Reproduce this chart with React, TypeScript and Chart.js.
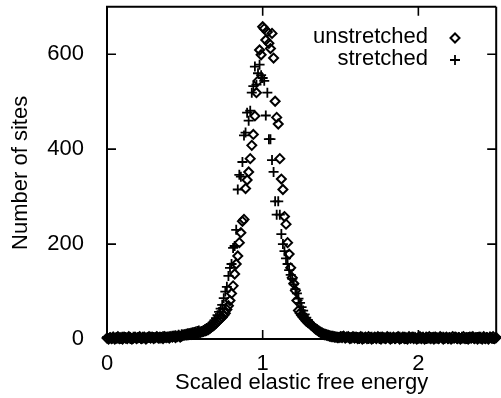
import React, { useEffect, useRef } from 'react';
import { Chart, registerables } from 'chart.js';

Chart.register(...registerables);

// Histogram bins: bin i is at x = i * binWidth (0 .. 2.5)
const binWidth = 0.01;

const unstretched = [
  2, 0, 3, 1, 4, 0, 2, 5, 1, 3,
  0, 4, 2, 1, 5, 3, 0, 2, 4, 1,
  3, 5, 1, 2, 4, 0, 3, 5, 2, 4,
  1, 3, 5, 2, 4, 3, 1, 5, 3, 4,
  2, 5, 4, 6, 3, 5, 7, 4, 6, 8,
  8, 9, 9, 10, 10, 11, 11, 12, 12, 13,
  14, 15, 16, 17, 18, 20, 22, 25, 27, 30,
  33, 37, 40, 43, 46, 50, 54, 62, 70, 81,
  96, 112, 137, 158, 175, 203, 224, 248, 252, 317,
  335, 352, 380, 408, 431, 470, 519, 544, 609, 599,
  658, 654, 630, 647, 623, 612, 644, 592, 501, 467,
  453, 380, 337, 315, 258, 242, 203, 179, 150, 129,
  117, 102, 81, 60, 55, 50, 46, 42, 38, 35,
  33, 30, 27, 24, 21, 19, 16, 14, 12, 10,
  9, 8, 7, 6, 5, 5, 4, 4, 3, 3,
  5, 3, 6, 2, 4, 5, 1, 3, 5, 2,
  4, 1, 3, 5, 0, 2, 4, 1, 5, 3,
  0, 2, 4, 1, 5, 3, 0, 4, 2, 1,
  5, 3, 0, 2, 4, 1, 3, 5, 0, 2,
  4, 1, 3, 0, 5, 2, 4, 1, 3, 0,
  2, 5, 1, 3, 0, 4, 2, 5, 1, 3,
  0, 4, 2, 1, 5, 3, 0, 2, 4, 1,
  3, 0, 5, 2, 4, 1, 3, 0, 2, 5,
  1, 3, 0, 4, 2, 5, 1, 3, 0, 4,
  2, 0, 5, 1, 3, 0, 4, 2, 5, 1,
  3,
];

const stretched = [
  4, 1, 3, 0, 5, 2, 4, 1, 3, 0,
  5, 2, 4, 1, 3, 0, 2, 5, 3, 1,
  4, 2, 0, 5, 3, 1, 4, 2, 5, 3,
  4, 2, 5, 3, 1, 4, 6, 3, 5, 4,
  6, 4, 7, 5, 8, 6, 9, 7, 10, 9,
  10, 11, 12, 12, 13, 14, 15, 16, 17, 18,
  16, 17, 19, 21, 23, 25, 28, 31, 35, 39,
  44, 50, 57, 64, 72, 86, 100, 110, 133, 150,
  158, 192, 196, 230, 315, 346, 342, 373, 429, 435,
  477, 460, 481, 519, 533, 574, 536, 560, 578, 556,
  550, 544, 471, 519, 421, 421, 377, 352, 290, 262,
  290, 262, 221, 200, 185, 170, 158, 145, 135, 127,
  115, 105, 96, 85, 76, 67, 60, 52, 45, 40,
  35, 31, 28, 25, 22, 20, 18, 16, 14, 12,
  11, 10, 9, 8, 7, 7, 6, 5, 5, 4,
  3, 6, 4, 2, 5, 3, 4, 1, 3, 5,
  2, 4, 0, 3, 5, 1, 4, 2, 0, 3,
  5, 1, 3, 2, 4, 0, 5, 2, 3, 1,
  4, 2, 5, 1, 3, 0, 4, 2, 5, 1,
  3, 5, 0, 2, 4, 1, 3, 5, 2, 0,
  4, 1, 3, 5, 2, 0, 3, 1, 4, 2,
  5, 1, 3, 0, 4, 2, 5, 1, 3, 0,
  4, 2, 1, 5, 3, 0, 4, 2, 5, 1,
  3, 0, 4, 1, 5, 2, 0, 3, 4, 1,
  5, 2, 3, 0, 4, 1, 5, 3, 0, 2,
  4,
];

const seriesLabels = ['unstretched', 'stretched'];
const xTicks = [0, 1, 2];
const yTicks = [0, 200, 400, 600];
const yRightTicks = [200, 400, 600];
const xRange = [0, 2.5];
const yRange = [0, 700];
const xTitle = 'Scaled elastic free energy';
const yTitle = 'Number of sites';

const FONT = '"Liberation Sans", Arial, Helvetica, sans-serif';
const FONT_SIZE = 22;

function toPoints(values: number[]) {
  return values.map((y, i) => ({ x: Math.round(i * binWidth * 100) / 100, y }));
}

const framePlugin = {
  id: 'frameAndLegend',
  afterDraw(chart: any) {
    const { ctx, chartArea } = chart;
    const xs = chart.scales.x;
    const ys = chart.scales.y;
    const { left, right, top, bottom } = chartArea;
    ctx.save();
    ctx.strokeStyle = '#000';
    ctx.lineWidth = 2;
    ctx.beginPath();
    ctx.moveTo(left, top);
    ctx.lineTo(right, top);
    ctx.moveTo(left, top - 1);
    ctx.lineTo(left, bottom + 1);
    ctx.moveTo(left - 1, bottom);
    ctx.lineTo(right, bottom);
    ctx.moveTo(right, top);
    ctx.lineTo(right, bottom);
    ctx.stroke();

    const tl = 9;
    ctx.lineWidth = 1.6;
    ctx.beginPath();
    xTicks.forEach((v) => {
      const px = xs.getPixelForValue(v);
      ctx.moveTo(px, bottom);
      ctx.lineTo(px, bottom - tl);
      ctx.moveTo(px, top);
      ctx.lineTo(px, top + tl);
    });
    yTicks.forEach((v) => {
      const py = ys.getPixelForValue(v);
      ctx.moveTo(left, py);
      ctx.lineTo(left + tl, py);
    });
    yRightTicks.forEach((v) => {
      const py = ys.getPixelForValue(v);
      ctx.moveTo(right, py);
      ctx.lineTo(right - tl, py);
    });
    ctx.stroke();

    // legend
    ctx.fillStyle = '#000';
    ctx.font = `${FONT_SIZE}px ${FONT}`;
    ctx.textAlign = 'right';
    ctx.textBaseline = 'middle';
    const textX = 428;
    const symX = 455;
    const rows = [37, 59];
    seriesLabels.forEach((label, i) => {
      ctx.fillText(label, textX, rows[i]);
    });
    // diamond
    ctx.lineWidth = 2;
    ctx.beginPath();
    const r = 4.5;
    const cy0 = rows[0] + 1;
    ctx.moveTo(symX - r, cy0);
    ctx.lineTo(symX, cy0 - r);
    ctx.lineTo(symX + r, cy0);
    ctx.lineTo(symX, cy0 + r);
    ctx.closePath();
    ctx.stroke();
    // plus
    ctx.lineWidth = 1.8;
    ctx.beginPath();
    const pr = 5;
    const cy1 = rows[1] + 1;
    ctx.moveTo(symX - pr, cy1);
    ctx.lineTo(symX + pr, cy1);
    ctx.moveTo(symX, cy1 - pr);
    ctx.lineTo(symX, cy1 + pr);
    ctx.stroke();
    ctx.restore();
  },
};

export default function App() {
  const canvasRef = useRef<HTMLCanvasElement | null>(null);

  useEffect(() => {
    const canvas = canvasRef.current;
    if (!canvas) return;
    const chart = new Chart(canvas, {
      type: 'scatter',
      data: {
        datasets: [
          {
            label: seriesLabels[0],
            data: toPoints(unstretched),
            pointStyle: 'rectRot',
            pointRadius: 4.5,
            pointBorderWidth: 2,
            borderColor: '#000',
            backgroundColor: 'rgba(0,0,0,0)',
            pointHoverRadius: 4.5,
            clip: false,
          } as any,
          {
            label: seriesLabels[1],
            data: toPoints(stretched),
            pointStyle: 'cross',
            pointRadius: 5,
            pointBorderWidth: 1.8,
            borderColor: '#000',
            backgroundColor: '#000',
            pointHoverRadius: 5,
            clip: false,
          } as any,
        ],
      },
      options: {
        animation: false,
        responsive: false,
        devicePixelRatio: 1,
        events: [],
        layout: { padding: { top: 4, right: 0, left: 0, bottom: 0 } },
        plugins: {
          legend: { display: false },
          tooltip: { enabled: false },
        },
        scales: {
          x: {
            type: 'linear',
            min: xRange[0],
            max: xRange[1],
            grid: { display: false },
            border: { display: false },
            afterBuildTicks: (s: any) => {
              s.ticks = xTicks.map((v) => ({ value: v }));
            },
            afterFit: (s: any) => {
              s.height = 59;
              s.paddingLeft = 0;
              s.paddingRight = 0;
            },
            ticks: {
              color: '#000',
              padding: 4,
              maxRotation: 0,
              font: { family: FONT, size: FONT_SIZE },
              callback: (v: any) => String(v),
            },
            title: {
              display: true,
              text: xTitle,
              color: '#000',
              font: { family: FONT, size: FONT_SIZE },
              padding: { top: 0, bottom: 2 },
            },
          },
          y: {
            type: 'linear',
            min: yRange[0],
            max: yRange[1],
            grid: { display: false },
            border: { display: false },
            afterBuildTicks: (s: any) => {
              s.ticks = yTicks.map((v) => ({ value: v }));
            },
            afterFit: (s: any) => {
              s.width = 107;
              s.paddingTop = 0;
              s.paddingBottom = 0;
            },
            ticks: {
              color: '#000',
              padding: 15,
              font: { family: FONT, size: FONT_SIZE },
              callback: (v: any) => String(v),
            },
            title: {
              display: true,
              text: yTitle,
              color: '#000',
              font: { family: FONT, size: FONT_SIZE },
              padding: { top: 8, bottom: 0 },
            },
          },
        },
      },
      plugins: [framePlugin],
    });
    return () => chart.destroy();
  }, []);

  return (
    <div
      style={{
        position: 'absolute',
        left: 0,
        top: 0,
        width: 501,
        height: 398,
        overflow: 'hidden',
        background: '#fff',
      }}
    >
      <canvas ref={canvasRef} width={503} height={398} style={{ display: 'block', width: 503, height: 398 }} />
    </div>
  );
}
